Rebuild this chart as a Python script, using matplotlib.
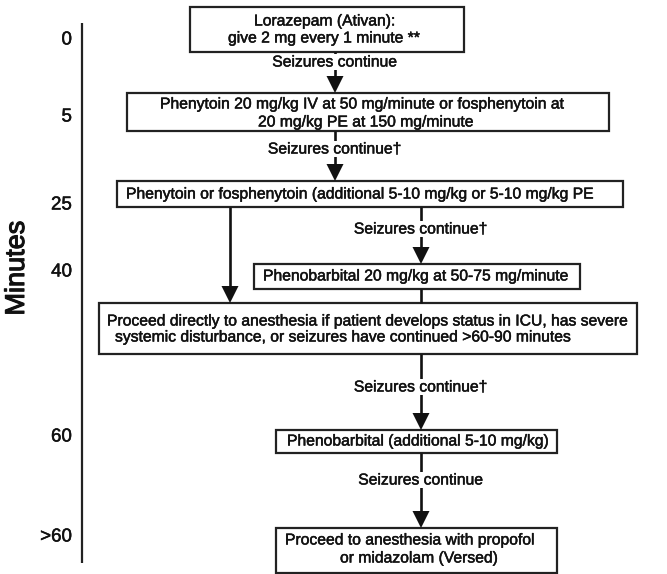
import matplotlib
matplotlib.use('Agg')
import matplotlib.pyplot as plt
import matplotlib.patheffects as pe
from matplotlib.patches import Rectangle, Polygon

# --- content ---
minute_labels = ['0', '5', '25', '40', '60', '>60']
step_texts = [
    ['Lorazepam (Ativan):', 'give 2 mg every 1 minute **'],
    ['Phenytoin 20 mg/kg IV at 50 mg/minute or fosphenytoin at', '20 mg/kg PE at 150 mg/minute'],
    ['Phenytoin or fosphenytoin (additional 5-10 mg/kg or 5-10 mg/kg PE'],
    ['Phenobarbital 20 mg/kg at 50-75 mg/minute'],
    ['Proceed directly to anesthesia if patient develops status in ICU, has severe',
     'systemic disturbance, or seizures have continued >60-90 minutes'],
    ['Phenobarbital (additional 5-10 mg/kg)'],
    ['Proceed to anesthesia with propofol', 'or midazolam (Versed)'],
]
arrow_labels = ['Seizures continue', 'Seizures continue\u2020', '', 'Seizures continue\u2020',
                '', 'Seizures continue\u2020', 'Seizures continue']

# --- layout (pixel coords, y down) ---
minute_y = [40, 117, 205, 272, 437, 537]
box_extent = [(190, 7, 464, 52), (127, 93, 609, 131), (117, 181, 623, 207),
              (254, 264, 580, 289), (99, 303, 637, 354), (276, 430, 557, 453),
              (276, 528, 557, 573)]
text_x = [[254, 228], [160, 258], [126], [263], [107, 115], [287], [285, 340]]
text_y = [[21, 38], [104, 122], [194], [276], [321, 337], [441], [540, 558]]
# x, y_start, y_end, has_head, label_y
arrows = [(335, 52, 93, True, 62), (335, 131, 181, True, 149), (230, 207, 303, True, None),
          (421, 207, 264, True, 229), (421, 289, 303, False, None),
          (421, 354, 430, True, 387), (421, 453, 528, True, 480)]

FONT = 'Liberation Sans'
FS = 11.3
INK = '#111111'
thick = [pe.withStroke(linewidth=0.35, foreground=INK)]

fig = plt.figure(figsize=(6.67, 5.74), dpi=100)
ax = fig.add_axes([0, 0, 1, 1])
ax.set_xlim(0, 667)
ax.set_ylim(574, 0)
ax.axis('off')

# time axis
ax.plot([82, 82], [23, 563], color='#222222', lw=1.6, solid_capstyle='butt')
for lab, y in zip(minute_labels, minute_y):
    ax.text(72, y, lab, ha='right', va='center', fontsize=13.5, family=FONT, color=INK,
            path_effects=thick)
ax.text(17, 268, 'Minutes', rotation=90, ha='center', va='center', fontsize=19.5, family=FONT,
        color=INK, path_effects=[pe.withStroke(linewidth=0.8, foreground=INK)])

# boxes
for i, (x0, y0, x1, y1) in enumerate(box_extent):
    ax.add_patch(Rectangle((x0, y0), x1 - x0, y1 - y0, fill=False, ec='#222222', lw=1.6))
    for line, tx, ty in zip(step_texts[i], text_x[i], text_y[i]):
        ax.text(tx, ty, line, ha='left', va='center', fontsize=FS, family=FONT, color=INK,
                path_effects=thick)

# arrows
for (x, ya, yb, head, ly), lab in zip(arrows, arrow_labels):
    end = yb - 14 if head else yb
    ax.plot([x, x], [ya, end], color=INK, lw=1.9, solid_capstyle='butt')
    if head:
        ax.add_patch(Polygon([(x - 8.5, yb - 17), (x + 8.5, yb - 17), (x, yb)],
                             closed=True, fc=INK, ec='none'))
    if lab:
        ax.text(x, ly, lab, ha='center', va='center', fontsize=FS, family=FONT, color=INK,
                path_effects=thick, bbox=dict(fc='white', ec='none', pad=0.2))

fig.savefig('out.png', dpi=100)
